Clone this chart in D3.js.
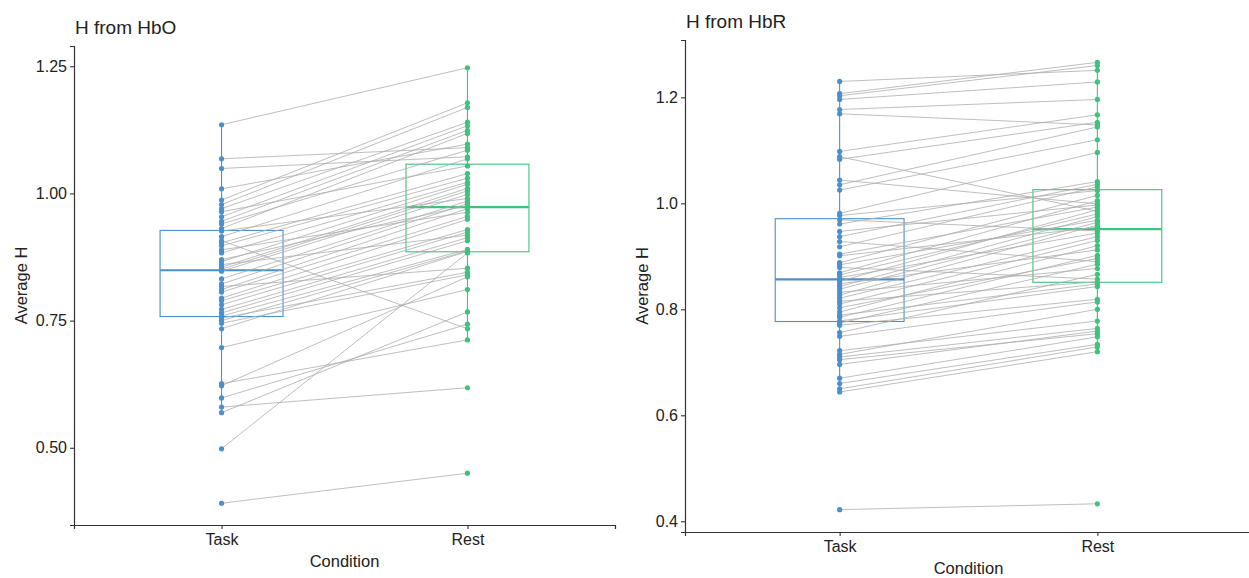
<!DOCTYPE html>
<meta charset="utf-8">

<!-- Load d3.js -->
<script src="https://d3js.org/d3.v7.min.js"></script>

<style>
  body { margin: 0; background: #fff; }
  text { font-family: "Liberation Sans", Arial, sans-serif; fill: #222; }
</style>

<!-- Create a div where the graph will take place -->
<div id="my_dataviz"></div>

<script>
  // conditions on the x axis
  var conditions = ["Task", "Rest"];

  // H from HbO, one value per subject (same order in both arrays)
  var hboTask = [1.135, 1.068, 1.049, 1.009, 0.987, 0.978, 0.970, 0.964, 0.954, 0.945,
    0.940, 0.931, 0.926, 0.915, 0.907, 0.903, 0.897, 0.889, 0.883, 0.870,
    0.866, 0.860, 0.855, 0.851, 0.847, 0.832, 0.822, 0.817, 0.811, 0.806,
    0.794, 0.789, 0.781, 0.772, 0.765, 0.759, 0.755, 0.750, 0.745, 0.734,
    0.697, 0.626, 0.622, 0.598, 0.580, 0.569, 0.498, 0.391];
  var hboRest = [1.247, 1.090, 1.072, 1.097, 1.178, 1.169, 1.140, 1.054, 1.133, 1.124,
    1.085, 1.118, 0.990, 1.068, 0.734, 1.039, 1.030, 0.963, 1.022, 0.976,
    1.018, 0.918, 1.010, 1.005, 0.998, 0.985, 0.980, 0.853, 0.970, 0.955,
    0.949, 0.929, 0.924, 0.913, 0.907, 0.890, 0.845, 0.887, 0.840, 0.886,
    0.811, 0.712, 0.836, 0.743, 0.618, 0.767, 0.883, 0.450];
  var hboTicks = [0.50, 0.75, 1.00, 1.25];

  // H from HbR
  var hbrTask = [1.230, 1.207, 1.203, 1.196, 1.177, 1.169, 1.098, 1.088, 1.083, 1.044,
    1.035, 1.025, 0.981, 0.977, 0.969, 0.961, 0.947, 0.937, 0.928, 0.918,
    0.904, 0.901, 0.888, 0.884, 0.879, 0.869, 0.865, 0.860, 0.853, 0.848,
    0.843, 0.838, 0.832, 0.827, 0.821, 0.815, 0.810, 0.803, 0.795, 0.789,
    0.785, 0.778, 0.774, 0.770, 0.756, 0.749, 0.722, 0.715, 0.710, 0.705,
    0.696, 0.670, 0.660, 0.650, 0.644, 0.422];
  var hbrRest = [1.251, 1.266, 1.260, 1.229, 1.196, 1.148, 1.167, 0.985, 1.153, 0.999,
    1.144, 1.120, 1.096, 1.024, 0.948, 1.041, 0.997, 1.036, 0.890, 1.031,
    0.993, 0.955, 1.015, 0.968, 0.857, 1.005, 0.980, 0.944, 0.988, 0.912,
    0.975, 0.964, 0.877, 0.959, 0.937, 0.852, 0.930, 0.896, 0.920, 0.848,
    0.902, 0.843, 0.885, 0.819, 0.866, 0.814, 0.778, 0.800, 0.764, 0.754,
    0.759, 0.748, 0.734, 0.729, 0.720, 0.433];
  var hbrTicks = [0.4, 0.6, 0.8, 1.0, 1.2];

  var colors = ["#4a90cd", "#3dc37c"];

  var svg = d3.select("#my_dataviz")
    .append("svg")
    .attr("width", 1249)
    .attr("height", 578);

  // boxplot stats like ggplot (type 7 quantiles, 1.5 IQR whiskers)
  function boxStats(values) {
    var s = values.slice().sort(d3.ascending);
    var q1 = d3.quantile(s, 0.25), med = d3.quantile(s, 0.5), q3 = d3.quantile(s, 0.75);
    var iqr = q3 - q1;
    var inside = s.filter(function(v) { return v >= q1 - 1.5 * iqr && v <= q3 + 1.5 * iqr; });
    return { q1: q1, med: med, q3: q3, lo: d3.min(inside), hi: d3.max(inside) };
  }

  function drawPanel(p) {
    var g = svg.append("g")
      .attr("transform", "translate(" + p.left + "," + p.top + ")");

    var ext = d3.extent(p.task.concat(p.rest));
    var pad = (ext[1] - ext[0]) * 0.05;
    var y = d3.scaleLinear()
      .domain([ext[0] - pad, ext[1] + pad])
      .range([p.height, 0]);
    // discrete positions 1 and 2 with ggplot's 0.6 expansion
    var x = d3.scaleLinear()
      .domain([0.4, 2.6])
      .range([0, p.width]);

    // boxplots
    [p.task, p.rest].forEach(function(vals, i) {
      var b = boxStats(vals);
      var cx = x(i + 1), x0 = x(i + 0.75), x1 = x(i + 1.25);
      var box = g.append("g")
        .attr("stroke", colors[i])
        .attr("fill", "none");
      box.append("line").attr("x1", cx).attr("x2", cx)
        .attr("y1", y(b.q3)).attr("y2", y(b.hi)).attr("stroke-width", 1.1);
      box.append("line").attr("x1", cx).attr("x2", cx)
        .attr("y1", y(b.q1)).attr("y2", y(b.lo)).attr("stroke-width", 1.1);
      box.append("rect")
        .attr("x", x0).attr("width", x1 - x0)
        .attr("y", y(b.q3)).attr("height", y(b.q1) - y(b.q3))
        .attr("stroke-width", 1.1);
      box.append("line").attr("x1", x0).attr("x2", x1)
        .attr("y1", y(b.med)).attr("y2", y(b.med)).attr("stroke-width", 2.2);
    });

    // paired lines
    g.selectAll(".pair")
      .data(d3.range(p.task.length))
      .enter()
      .append("line")
      .attr("x1", x(1))
      .attr("x2", x(2))
      .attr("y1", function(i) { return y(p.task[i]); })
      .attr("y2", function(i) { return y(p.rest[i]); })
      .attr("stroke", "#adadad")
      .attr("stroke-width", 0.8);

    // points
    [p.task, p.rest].forEach(function(vals, i) {
      g.selectAll(".pt" + i)
        .data(vals)
        .enter()
        .append("circle")
        .attr("cx", x(i + 1))
        .attr("cy", function(d) { return y(d); })
        .attr("r", 2.6)
        .attr("fill", colors[i]);
    });

    // axes
    var yAxis = g.append("g")
      .call(d3.axisLeft(y).tickValues(p.ticks).tickFormat(d3.format(p.fmt))
        .tickSizeOuter(0).tickSize(4).tickPadding(3));
    var xAxis = g.append("g")
      .attr("transform", "translate(0," + p.height + ")")
      .call(d3.axisBottom(x).tickValues([1, 2])
        .tickFormat(function(d) { return conditions[d - 1]; })
        .tickSizeOuter(0).tickSize(4).tickPadding(5));
    [yAxis, xAxis].forEach(function(a) {
      a.select(".domain").attr("stroke", "#333").attr("stroke-width", 1.2);
      a.selectAll(".tick line").attr("stroke", "#333").attr("stroke-width", 1.1);
      a.selectAll("text").style("font-size", "16px").attr("fill", "#222");
    });

    // title
    g.append("text")
      .attr("x", 1)
      .attr("y", -12)
      .style("font-size", "19px")
      .text(p.title);

    // text label for the x axis
    g.append("text")
      .attr("x", x(1.5))
      .attr("y", p.height + 42)
      .style("text-anchor", "middle")
      .style("font-size", "16.5px")
      .text("Condition");

    // text label for the y axis
    g.append("text")
      .attr("transform", "rotate(-90)")
      .attr("x", -p.height / 2)
      .attr("y", p.yTitle)
      .style("text-anchor", "middle")
      .style("font-size", "16.5px")
      .text("Average H");
  }

  drawPanel({ title: "H from HbO", task: hboTask, rest: hboRest, ticks: hboTicks, fmt: ".2f",
    left: 74, top: 46, width: 541, height: 479, yTitle: -47 });
  drawPanel({ title: "H from HbR", task: hbrTask, rest: hbrRest, ticks: hbrTicks, fmt: ".1f",
    left: 685, top: 40, width: 567, height: 492, yTitle: -37 });
</script>
